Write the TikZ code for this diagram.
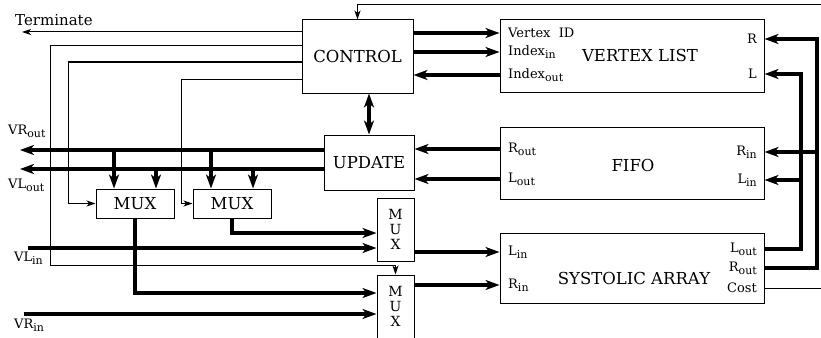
\documentclass[tikz,border=0pt]{standalone}
\usepackage{fontspec}
\setmainfont{DejaVu Serif}
\usetikzlibrary{arrows.meta, positioning, calc}
\newcommand{\mainfs}{\fontsize{16.5}{18}\selectfont}
\newcommand{\termfs}{\fontsize{15}{17}\selectfont}
\newcommand{\portfs}{\fontsize{13}{15}\selectfont}
\newcommand{\muxfs}{\fontsize{14}{15}\selectfont}
\newcommand{\subt}[1]{\raisebox{-0.45ex}{\fontsize{11}{12}\selectfont #1}}
\begin{document}
\begin{tikzpicture}[x=1pt, y=-1pt, line join=miter,
  box/.style={draw, line width=1pt, inner sep=0pt, font=\mainfs},
  hmux/.style={box, minimum width=78pt, minimum height=29pt},
  vmux/.style={box, align=center, font=\muxfs, minimum width=37pt, minimum height=63pt},
  port/.style={font=\portfs, inner sep=0pt},
  ttl/.style={font=\mainfs, inner sep=0pt},
  bus/.style={line width=3.5pt, -{Stealth[length=14pt, width=10pt, inset=4pt]}},
  dbus/.style={bus, {Stealth[length=14pt, width=10pt, inset=4pt]}-{Stealth[length=14pt, width=10pt, inset=4pt]}},
  wire/.style={line width=1pt},
  sig/.style={wire, -{Stealth[length=9pt, width=6pt, inset=2.5pt]}}]
\clip (0,0) rectangle (821,337);
% blocks
\node[box, minimum width=111pt, minimum height=73pt] (ctl) at (357.5,56.5) {CONTROL};
\node[box, minimum width=90pt, minimum height=55pt] (upd) at (369,162.5) {UPDATE};
\node[box, minimum width=264pt, minimum height=72pt] (vl) at (632,56) {};
\node[box, minimum width=264pt, minimum height=72pt] (fifo) at (632,163) {};
\node[box, minimum width=264pt, minimum height=70pt] (sys) at (632,268) {};
\node[hmux] (mux1) at (135,203.5) {MUX};
\node[hmux] (mux2) at (232,203.5) {MUX};
\node[vmux] (muxa) at (395.5,229.5) {M\\U\\X};
\node[vmux] (muxb) at (395.5,306.5) {M\\U\\X};
\node[ttl] at (640,55) {VERTEX LIST};
\node[ttl] at (633,165) {FIFO};
\node[ttl] at (634,278) {SYSTOLIC ARRAY};
% ports
\node[port, anchor=west] (vid) at (508,33) {Vertex\ \ ID};
\node[port, anchor=west] (ixin) at (508,52) {Index\subt{in}};
\node[port, anchor=west] (ixout) at (508,75) {Index\subt{out}};
\node[port, anchor=east] (pr) at (757,39) {R};
\node[port, anchor=east] (pl) at (757,74) {L};
\node[port, anchor=west] (frout) at (508,149) {R\subt{out}};
\node[port, anchor=west] (flout) at (508,179) {L\subt{out}};
\node[port, anchor=east] (frin) at (757,152) {R\subt{in}};
\node[port, anchor=east] (flin) at (757,180) {L\subt{in}};
\node[port, anchor=west] (slin) at (508,252) {L\subt{in}};
\node[port, anchor=west] (srin) at (508,285) {R\subt{in}};
\node[port, anchor=east] (slout) at (757,249) {L\subt{out}};
\node[port, anchor=east] (srout) at (757,268) {R\subt{out}};
\node[port, anchor=east] (cost) at (757,288) {Cost};
% outside signals
\node[port, font=\termfs, anchor=west] (term) at (15,20) {Terminate};
\node[port, anchor=west] (lvrout) at (8,131) {VR\subt{out}};
\node[port, anchor=west] (lvlout) at (8,185) {VL\subt{out}};
\node[port, anchor=west] (lvlin) at (14,258) {VL\subt{in}};
\node[port, anchor=west] (lvrin) at (14,325) {VR\subt{in}};
\coordinate (tm) at (22,32);
\coordinate (vrout) at (20,150);
\coordinate (vlout) at (20,169);
\coordinate (vlin) at (28,248);
\coordinate (vrin) at (24,314);
\coordinate (fb) at (821,5);
\coordinate (selA) at (50,0);
\coordinate (selB) at (68,0);
\coordinate (selC) at (181,0);
\coordinate (colL) at (801,0);
\coordinate (colR) at (817,0);
% control lines
\draw[sig] (fb) -| (ctl.north);
\draw[sig] (ctl.west |- tm) -- (tm);
\draw[sig] (ctl.west |- 0,46) -| (selA |- 0,265) -| (muxb.north);
\draw[sig] (ctl.west |- 0,62) -| (selB |- mux1) -- (mux1.west);
\draw[sig] (ctl.west |- 0,79) -| (selC |- mux2) -- (mux2.west);
\draw[wire] (sys.east |- cost) -- (fb |- cost);
% data buses
\draw[dbus] (ctl.south -| upd.north) -- (upd.north);
\draw[bus] (ctl.east |- vid) -- (vl.west |- vid);
\draw[bus] (ctl.east |- ixin) -- (vl.west |- ixin);
\draw[bus] (vl.west |- ixout) -- (ctl.east |- ixout);
\draw[bus] (fifo.west |- frout) -- (upd.east |- frout);
\draw[bus] (fifo.west |- flout) -- (upd.east |- flout);
\draw[bus] (upd.west |- vrout) -- (vrout);
\draw[bus] (upd.west |- vlout) -- (vlout);
\foreach \m in {mux1,mux2}{
  \coordinate (\m a) at ([xshift=-21pt]\m.north);
  \coordinate (\m b) at ([xshift=21pt]\m.north);
  \draw[bus] (\m a |- vrout) -- (\m a);
  \draw[bus] (\m b |- vlout) -- (\m b);
}
\draw[bus] (mux2.south) |- (muxa.west |- 0,233);
\draw[bus] (vlin) -- (muxa.west |- vlin);
\draw[bus] (mux1.south) |- (muxb.west |- 0,293);
\draw[bus] (vrin) -- (muxb.west |- vrin);
\draw[bus] (muxa.east |- slin) -- (sys.west |- slin);
\draw[bus] (muxb.east |- srin) -- (sys.west |- srin);
\draw[bus] (sys.east |- slout) -| (colL |- pl) -- (vl.east |- pl);
\draw[bus] (colL |- flin) -- (fifo.east |- flin);
\draw[bus] (sys.east |- srout) -| (colR |- pr) -- (vl.east |- pr);
\draw[bus] (colR |- frin) -- (fifo.east |- frin);
\end{tikzpicture}
\end{document}
